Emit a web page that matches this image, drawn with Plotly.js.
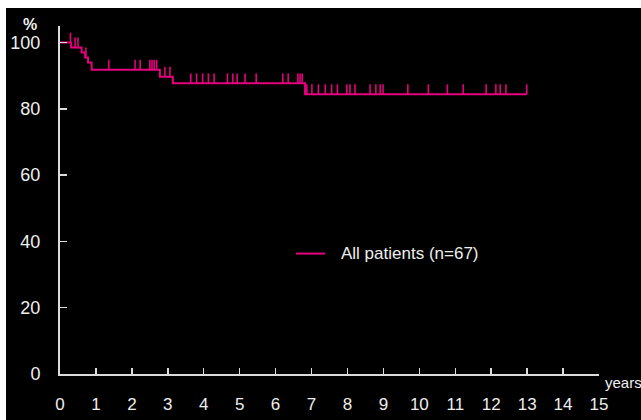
<!DOCTYPE html>
<html><head><meta charset="utf-8">
<script src="https://cdn.plot.ly/plotly-3.0.1.min.js"></script>
<style>
html,body{margin:0;padding:0;background:#fff;width:641px;height:420px;overflow:hidden}
#chart{position:absolute;left:6px;top:8px;width:635px;height:412px}
</style>
</head><body><div id="chart"></div>
<script>
// Kaplan-Meier step curve (years, % surviving)
const stepTimes = [0, 0.31, 0.60, 0.70, 0.78, 0.88, 2.78, 3.14, 6.82, 12.99];
const stepSurv  = [100, 98.5, 97.0, 95.5, 94.0, 91.8, 89.7, 87.7, 84.4, 84.4];
// censored observations (years)
const censorTimes = [0.29, 0.42, 0.50, 0.72, 1.36, 2.09, 2.23, 2.50, 2.56, 2.62, 2.69,
  2.92, 3.06, 3.64, 3.80, 3.97, 4.13, 4.29, 4.66, 4.81, 4.93, 5.15, 5.46, 6.20, 6.35,
  6.62, 6.68, 6.74, 6.87, 7.01, 7.19, 7.38, 7.56, 7.72, 7.98, 8.07, 8.21, 8.63, 8.79,
  8.91, 8.99, 9.68, 10.25, 10.78, 11.22, 11.86, 12.13, 12.25, 12.41, 12.99];
const tickHeight = 3; // % units of a censor mark
const seriesName = 'All patients (n=67)';
const xTickVals = [0,1,2,3,4,5,6,7,8,9,10,11,12,13,14,15];
const yTickVals = [0,20,40,60,80,100];

function survAt(t){
  let s = stepSurv[0];
  for (let i = 0; i < stepTimes.length; i++) { if (stepTimes[i] < t) s = stepSurv[i]; }
  return s;
}
const cx = [], cy = [];
censorTimes.forEach(t => { const s = survAt(t); cx.push(t, t, null); cy.push(s, s + tickHeight, null); });

const col = '#e6007e';
const txt = '#eeeeee';
const fam = 'Liberation Sans, Arial, sans-serif';
const traces = [
  {x: stepTimes, y: stepSurv, type: 'scatter', mode: 'lines', line: {shape: 'hv', color: col, width: 2},
   name: seriesName, showlegend: false, hoverinfo: 'skip'},
  {x: cx, y: cy, type: 'scatter', mode: 'lines', line: {color: col, width: 1.6},
   showlegend: false, hoverinfo: 'skip', connectgaps: false}
];
const axisCol = '#dcdcdc';
const legY = 0.346;
const layout = {
  width: 635, height: 412,
  paper_bgcolor: '#000', plot_bgcolor: '#000',
  margin: {l: 54, r: 42, t: 18, b: 46, pad: 0},
  font: {family: fam, color: txt},
  xaxis: {range: [0, 15], tickvals: xTickVals, ticktext: xTickVals.map(String), showgrid: false, zeroline: false,
    showline: true, linecolor: axisCol, linewidth: 2, ticks: 'inside', ticklen: 6, tickwidth: 1.5, tickcolor: axisCol,
    tickfont: {size: 17, color: txt}, ticklabelstandoff: 14, fixedrange: true},
  yaxis: {range: [0, 105], tickvals: yTickVals, showgrid: false, zeroline: false,
    showline: true, linecolor: axisCol, linewidth: 2, ticks: 'inside', ticklen: 7, tickwidth: 1.5, tickcolor: axisCol,
    tickfont: {size: 18, color: txt}, ticklabelstandoff: 14, fixedrange: true},
  showlegend: false,
  shapes: [
    {type: 'line', xref: 'paper', yref: 'paper', x0: 0.4378, x1: 0.4917, y0: legY, y1: legY,
     line: {color: col, width: 2}}
  ],
  annotations: [
    {text: seriesName, xref: 'paper', yref: 'paper', x: 0.5176, y: legY, showarrow: false,
     font: {size: 17, color: txt, family: fam}, xanchor: 'left', yanchor: 'middle'},
    {text: '<b>%</b>', xref: 'paper', yref: 'paper', x: -0.056, y: 1.004, showarrow: false,
     font: {size: 16, color: txt, family: fam}, xanchor: 'center', yanchor: 'middle'},
    {text: 'years', xref: 'paper', yref: 'paper', x: 1.007, y: -0.023, showarrow: false,
     font: {size: 15, color: txt, family: fam}, xanchor: 'left', yanchor: 'middle'}
  ]
};
Plotly.newPlot('chart', traces, layout, {displayModeBar: false, staticPlot: true});
</script></body></html>
